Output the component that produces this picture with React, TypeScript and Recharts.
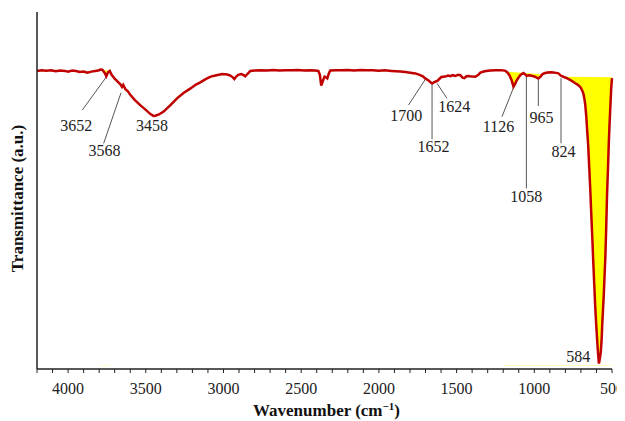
import { ComposedChart, Line, Area, XAxis, YAxis, ReferenceLine, ReferenceDot, Label } from "recharts";

// FTIR spectrum (wavenumber in cm-1, transmittance in a.u.)
const wavenumbers = [
  4200, 4170, 4140, 4110, 4080, 4050, 4020, 4000, 3975, 3950, 3925, 3900, 3875, 3850, 3825, 3800,
  3790, 3780, 3765, 3754, 3742, 3732, 3720, 3700, 3681, 3665, 3653, 3645, 3630, 3615, 3600, 3570,
  3536, 3500, 3470, 3450, 3438, 3415, 3385, 3340, 3299, 3255, 3212, 3180, 3149, 3115, 3083, 3045,
  3008, 2975, 2956, 2940, 2930, 2918, 2905, 2885, 2870, 2860, 2845, 2827, 2800, 2760, 2720, 2680,
  2640, 2600, 2560, 2520, 2480, 2440, 2410, 2390, 2380, 2371, 2364, 2358, 2350, 2340, 2332, 2322,
  2313, 2280, 2240, 2200, 2160, 2120, 2080, 2040, 2000, 1960, 1920, 1890, 1862, 1830, 1798, 1765,
  1734, 1715, 1702, 1680, 1665, 1657, 1640, 1624, 1610, 1598, 1573, 1555, 1540, 1525, 1508, 1490,
  1476, 1462, 1450, 1436, 1424, 1400, 1379, 1360, 1347, 1320, 1283, 1250, 1218, 1200, 1186, 1172,
  1160, 1145, 1134, 1124, 1115, 1100, 1089, 1070, 1058, 1049, 1035, 1024, 1005, 992, 980, 973,
  960, 947, 930, 915, 895, 877, 860, 845, 830, 810, 791, 770, 755, 738, 720, 704,
  695, 685, 678, 672, 666, 660, 653, 647, 640, 634, 627, 621, 614, 608, 601, 595,
  590, 586, 584, 580, 575, 572, 567, 563, 558, 553, 548, 543, 537, 532, 526, 521,
  516, 511, 505, 500,
];
const transmittance = [
  83.5, 83.7, 83.55, 83.65, 83.4, 83.6, 83.5, 83.3, 83.6, 83.45, 83.2, 83.35, 83.0, 83.3, 83.5, 83.7,
  83.9, 83.85, 83.0, 82.0, 83.2, 83.5, 82.4, 81.3, 80.5, 79.8, 79.0, 79.6, 78.3, 77.8, 76.8, 75.3,
  73.9, 72.6, 71.4, 70.9, 70.95, 71.3, 72.1, 74.0, 75.8, 77.4, 78.6, 79.6, 80.3, 81.2, 81.9, 82.3,
  82.6, 82.5, 82.2, 81.7, 81.2, 81.9, 82.4, 82.6, 82.3, 82.0, 82.7, 83.5, 83.6, 83.7, 83.6, 83.75,
  83.6, 83.7, 83.65, 83.75, 83.6, 83.7, 83.6, 83.5, 82.5, 79.4, 80.2, 81.0, 81.9, 81.7, 81.4, 82.8,
  83.6, 83.7, 83.65, 83.75, 83.6, 83.75, 83.65, 83.7, 83.55, 83.65, 83.5, 83.4, 83.3, 83.2, 83.0, 82.8,
  82.3, 81.9, 81.4, 80.8, 80.2, 80.0, 80.4, 80.7, 81.3, 81.8, 81.9, 82.2, 82.0, 82.3, 82.1, 82.4,
  82.3, 81.6, 81.5, 82.0, 82.1, 81.9, 81.85, 82.4, 83.0, 83.4, 83.6, 83.7, 83.7, 83.65, 83.5, 83.0,
  82.3, 80.8, 79.1, 79.8, 80.7, 81.7, 82.35, 82.9, 82.5, 82.1, 82.25, 82.2, 82.0, 81.8, 81.5, 81.4,
  81.9, 82.6, 82.9, 83.05, 83.1, 83.05, 82.95, 82.8, 82.2, 81.8, 81.5, 81.0, 80.6, 80.1, 79.6, 79.0,
  78.3, 77.3, 75.8, 74.0, 71.0, 67.0, 62.5, 57.0, 50.5, 44.0, 37.0, 30.5, 23.5, 17.5, 12.0, 7.8,
  4.5, 2.5, 1.5, 2.5, 3.8, 4.8, 8.0, 12.3, 16.5, 20.7, 26.0, 31.1, 40.0, 48.7, 56.0, 62.7,
  68.5, 73.1, 78.7, 81.5,
];

// upper edges of the yellow shaded regions
const edgeSmallWn = [3790, 3732];
const edgeSmall = [83.9, 83.5];
const edgeLargeWn = [1200, 980, 830, 500];
const edgeLarge = [83.35, 82.65, 81.85, 81.7];

const xTicks = [
  4200, 4100, 4000, 3900, 3800, 3700, 3600, 3500, 3400, 3300, 3200, 3100, 3000, 2900, 2800, 2700,
  2600, 2500, 2400, 2300, 2200, 2100, 2000, 1900, 1800, 1700, 1600, 1500, 1400, 1300, 1200, 1100,
  1000, 900, 800, 700, 600, 500,
];

// peak labels: tip of leader, end of leader, text centre (data units)
const peaks = [
  { text: "3652", tip: [3754, 81.8], end: [3908, 72.55], at: [3947, 68.1] },
  { text: "3568", tip: [3659, 77.4], end: [3771, 63.2], at: [3765, 61.15] },
  { text: "3458", tip: null, end: null, at: [3460, 68.1] },
  { text: "1700", tip: [1701, 81.15], end: [1809, 73.95], at: [1824, 71.15] },
  { text: "1652", tip: [1658, 80.0], end: [1658, 64.34], at: [1648, 62.27] },
  { text: "1624", tip: [1626, 80.0], end: [1562, 75.83], at: [1515, 73.67] },
  { text: "1126", tip: [1133, 78.9], end: [1208, 70.67], at: [1230, 68.07] },
  { text: "1058", tip: [1051, 81.88], end: [1051, 50.62], at: [1051, 48.46] },
  { text: "965", tip: [974, 81.7], end: [974, 73.67], at: [953, 70.5] },
  { text: "824", tip: [828, 81.43], end: [828, 63.22], at: [812, 60.87] },
  { text: "584", tip: null, end: null, at: [717, 3.45] },
];

// white mask under the curve, one point wider than each shaded span
const rows = wavenumbers.map((w, i) => {
  const row: any = { w, t: transmittance[i] };
  const a = edgeSmallWn.indexOf(w);
  if (a >= 0) row.edgeSmall = edgeSmall[a];
  const b = edgeLargeWn.indexOf(w);
  if (b >= 0) row.edgeLarge = edgeLarge[b];
  if ((w <= 3800 && w >= 3720) || w <= 1218) row.under = transmittance[i];
  return row;
});

const serif = "'Liberation Serif', 'Times New Roman', serif";

export default function App() {
  return (
    <ComposedChart width={617} height={413} data={rows} margin={{ top: 4, right: 13, left: 0, bottom: 0 }}>
      <XAxis
        dataKey="w"
        type="number"
        domain={[500, 4200]}
        reversed
        ticks={xTicks}
        interval={0}
        tickFormatter={(v: number) => (v % 500 === 0 ? String(v) : "")}
        tickSize={4}
        tickMargin={10}
        height={52}
        axisLine={{ stroke: "#222", strokeWidth: 1.5 }}
        tickLine={{ stroke: "#222" }}
        tick={{ fontFamily: serif, fontSize: 16, fill: "#222" }}
      >
        <Label
          content={({ viewBox }: any) => (
            <text x={viewBox.x + viewBox.width / 2 + 2} y={viewBox.y + 47} textAnchor="middle" fontFamily={serif} fontSize={17} fontWeight="bold" fill="#111">
              Wavenumber (cm<tspan dy={-6} fontSize={11}>−1</tspan><tspan dy={6}>)</tspan>
            </text>
          )}
        />
      </XAxis>
      <YAxis
        type="number"
        domain={[0, 100]}
        width={29}
        tick={false}
        tickLine={false}
        axisLine={{ stroke: "#222", strokeWidth: 1.5 }}
      >
        <Label
          content={({ viewBox }: any) => {
            const x = viewBox.x + 15;
            const y = viewBox.y + viewBox.height / 2 + 8;
            return (
              <text x={x} y={y} transform={`rotate(-90 ${x} ${y})`} textAnchor="middle" fontFamily={serif} fontSize={17} fontWeight="bold" fill="#111">
                Transmittance (a.u.)
              </text>
            );
          }}
        />
      </YAxis>
      <Area dataKey="edgeSmall" type="linear" connectNulls baseValue={1} stroke="none" fill="#FFFF00" fillOpacity={1} isAnimationActive={false} />
      <Area dataKey="edgeLarge" type="linear" connectNulls baseValue={1} stroke="none" fill="#FFFF00" fillOpacity={1} isAnimationActive={false} />
      <Area dataKey="under" type="linear" baseValue={1} stroke="none" fill="#FFFFFF" fillOpacity={1} isAnimationActive={false} />
      {peaks
        .filter((p) => p.tip && p.end)
        .map((p) => (
          <ReferenceLine
            key={"l" + p.text}
            segment={[
              { x: p.tip![0], y: p.tip![1] },
              { x: p.end![0], y: p.end![1] },
            ]}
            stroke="#555"
            strokeWidth={1}
          />
        ))}
      <Line dataKey="t" type="linear" stroke="#C00000" strokeWidth={2.5} dot={false} activeDot={false} isAnimationActive={false} />
      {peaks.map((p) => (
        <ReferenceDot
          key={"t" + p.text}
          x={p.at[0]}
          y={p.at[1]}
          r={0}
          shape={(props: any) => (
            <text x={props.cx} y={props.cy} dy="0.35em" textAnchor="middle" fontFamily={serif} fontSize={16} fill="#222">
              {p.text}
            </text>
          )}
        />
      ))}
    </ComposedChart>
  );
}
